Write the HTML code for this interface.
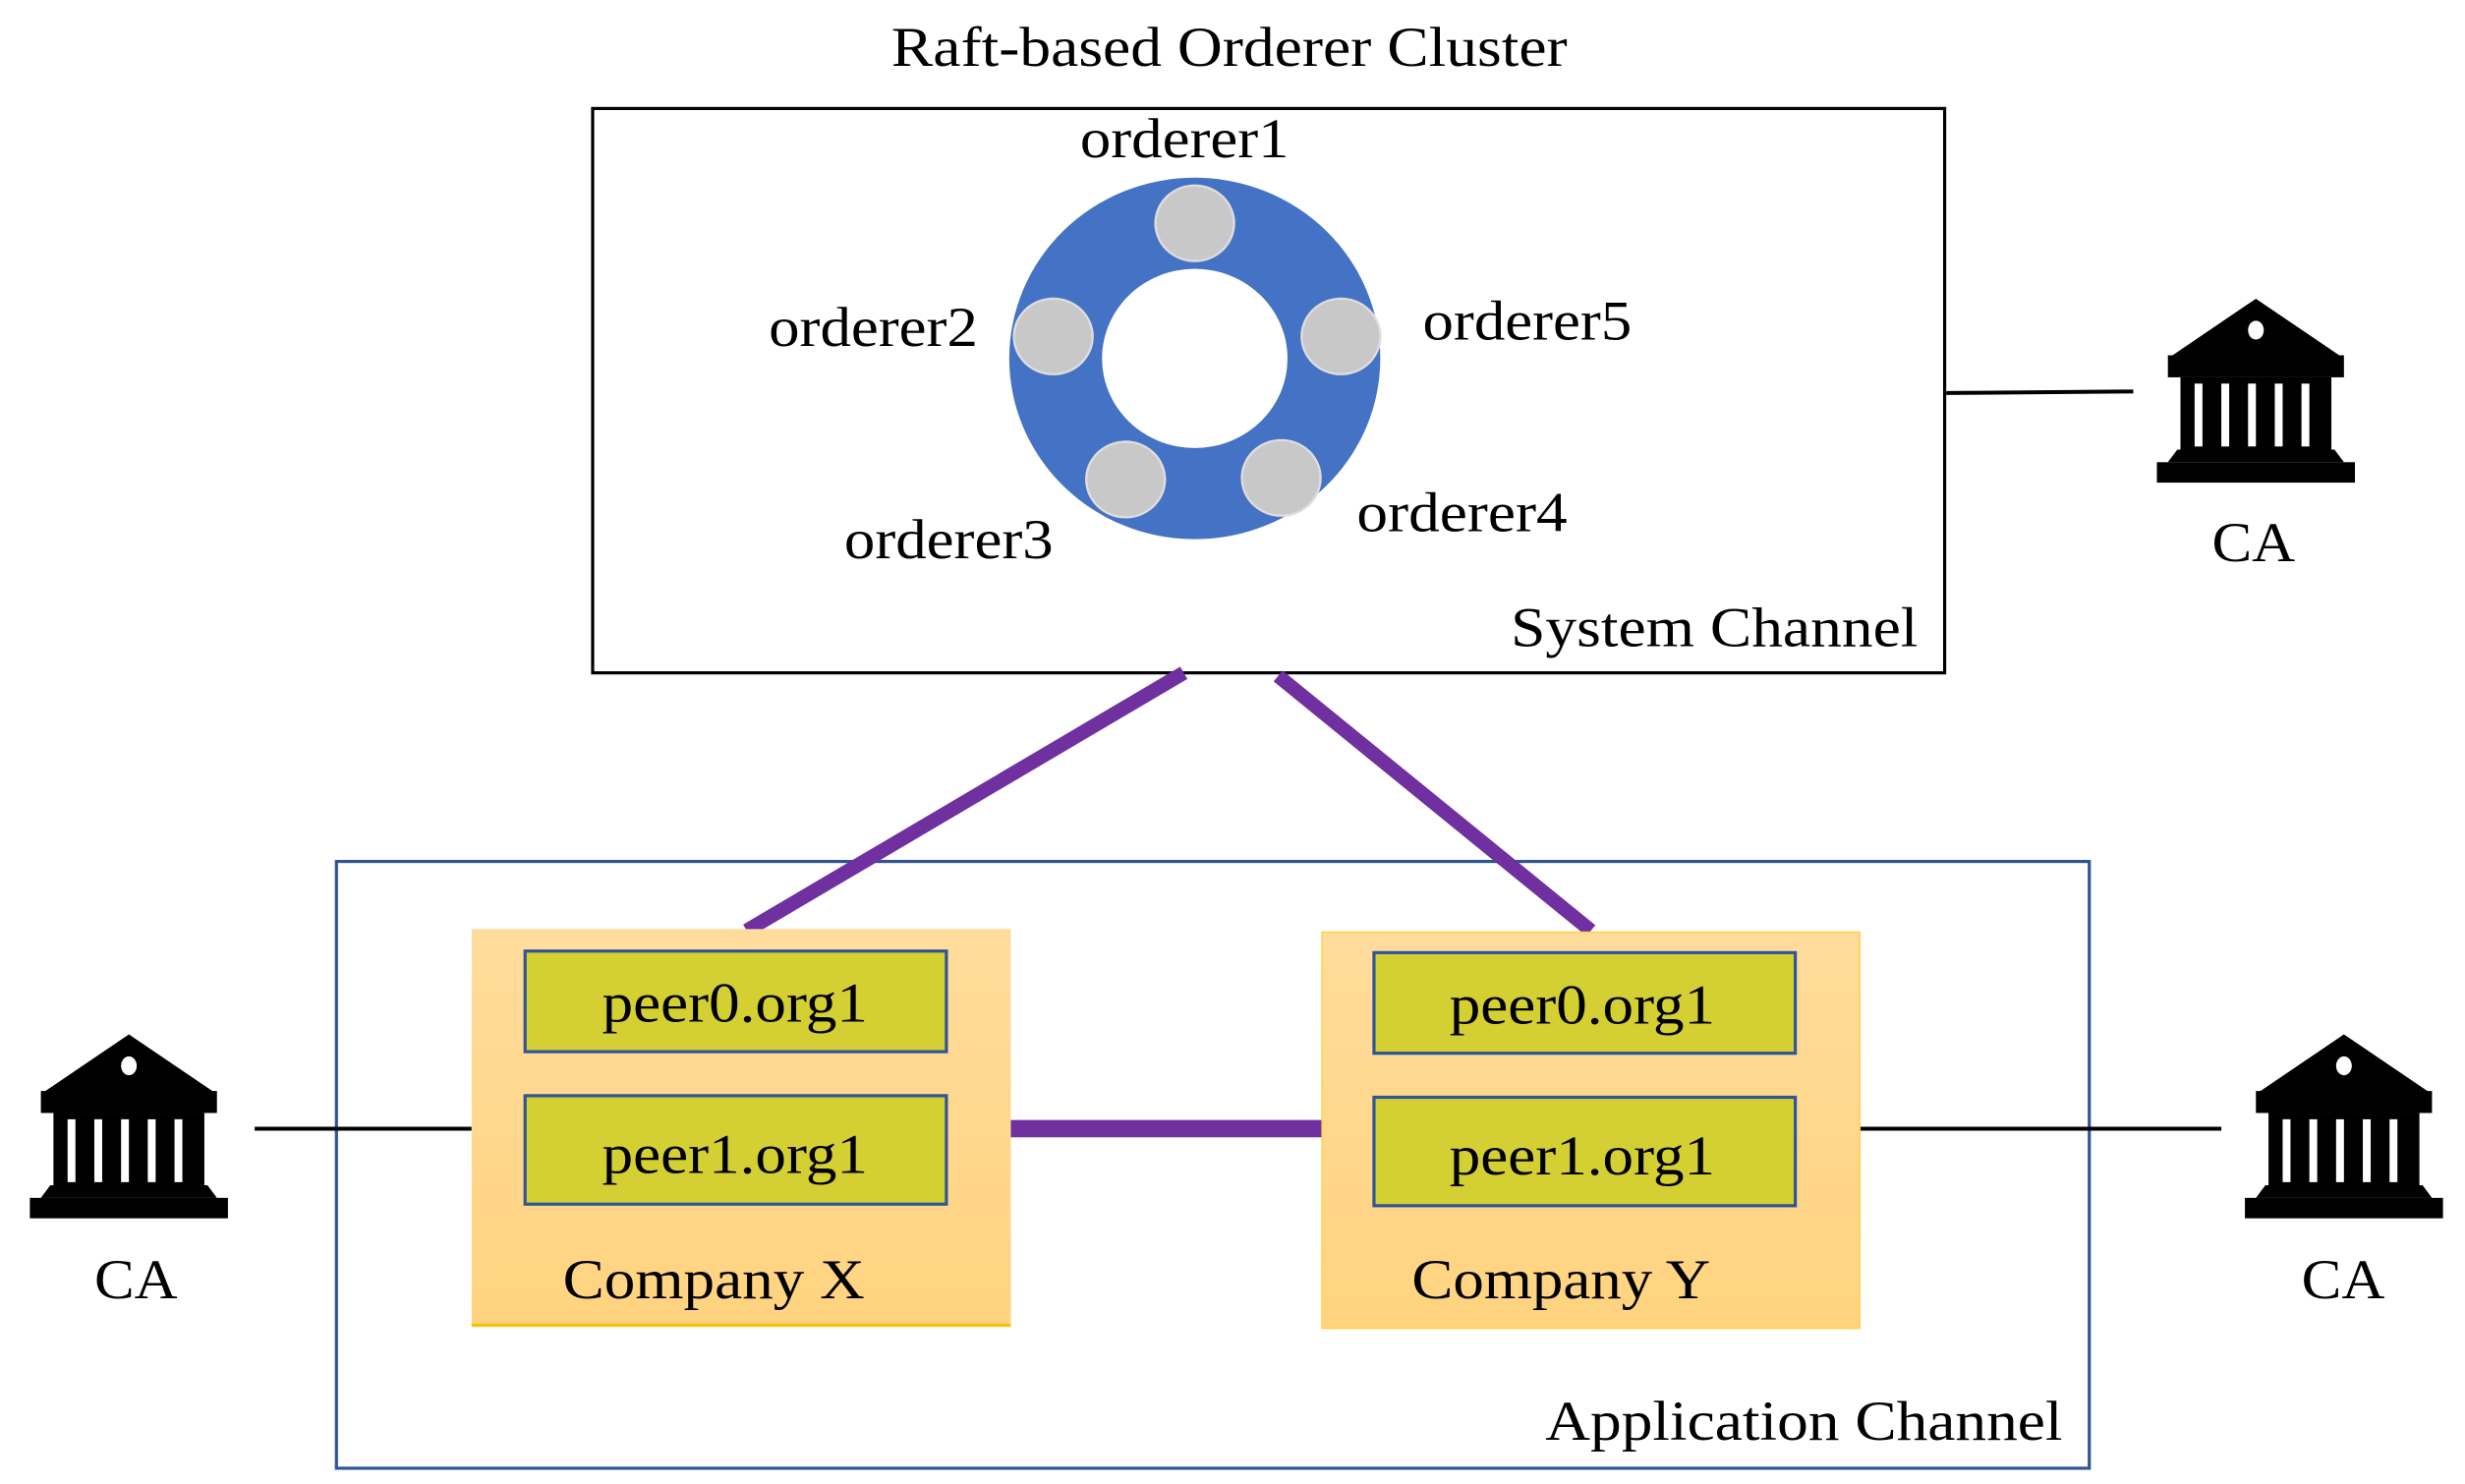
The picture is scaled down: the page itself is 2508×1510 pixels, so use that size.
<!DOCTYPE html>
<html><head><meta charset="utf-8"><style>html,body{margin:0;padding:0;background:#fff}svg{display:block}</style></head>
<body>
<svg xmlns="http://www.w3.org/2000/svg" width="2508" height="1510" viewBox="0 0 1568 944" font-family="'Liberation Serif', serif" font-size="36">
<defs>
<linearGradient id="og" x1="0" y1="0" x2="0" y2="1"><stop offset="0" stop-color="#FFDC9C"/><stop offset="1" stop-color="#FFD37F"/></linearGradient>
<g id="ca">
<polygon points="0,0 -56,38 56,38" fill="#000"/>
<ellipse cx="0" cy="20" rx="5" ry="6" fill="#fff"/>
<rect x="-56" y="36" width="112" height="14" fill="#000"/>
<rect x="-48" y="50" width="96" height="46" fill="#000"/>
<rect x="-39" y="54" width="5" height="40" fill="#fff"/>
<rect x="-22" y="54" width="5" height="40" fill="#fff"/>
<rect x="-5" y="54" width="5" height="40" fill="#fff"/>
<rect x="12" y="54" width="5" height="40" fill="#fff"/>
<rect x="29" y="54" width="5" height="40" fill="#fff"/>
<polygon points="-50,96 50,96 56,104 -56,104" fill="#000"/>
<rect x="-63" y="104" width="126" height="13" fill="#000"/>
</g>
</defs>
<text x="567" y="42" textLength="430" lengthAdjust="spacingAndGlyphs">Raft-based Orderer Cluster</text>
<rect x="377" y="69" width="860" height="359" fill="#fff" stroke="#000" stroke-width="2"/>
<path fill-rule="evenodd" fill="#4472C4" d="M642,228a118,115 0 1,0 236,0a118,115 0 1,0 -236,0z M701,228a59,57 0 1,0 118,0a59,57 0 1,0 -118,0z"/>
<g fill="#C8C8C8" stroke="#ddd" stroke-width="1.5">
<ellipse cx="760" cy="142" rx="25" ry="24"/>
<ellipse cx="670" cy="214" rx="25" ry="24"/>
<ellipse cx="853" cy="214" rx="25" ry="24"/>
<ellipse cx="716" cy="305" rx="25" ry="24"/>
<ellipse cx="815" cy="304" rx="25" ry="24"/>
</g>
<g lengthAdjust="spacingAndGlyphs">
<text x="687" y="100" textLength="133" lengthAdjust="spacingAndGlyphs">orderer1</text>
<text x="489" y="220" textLength="133" lengthAdjust="spacingAndGlyphs">orderer2</text>
<text x="905" y="216" textLength="133" lengthAdjust="spacingAndGlyphs">orderer5</text>
<text x="537" y="355" textLength="133" lengthAdjust="spacingAndGlyphs">orderer3</text>
<text x="863" y="338" textLength="134" lengthAdjust="spacingAndGlyphs">orderer4</text>
<text x="961" y="411" textLength="259" lengthAdjust="spacingAndGlyphs">System Channel</text>
</g>
<line x1="1238" y1="250" x2="1357" y2="249" stroke="#000" stroke-width="2.5"/>
<use href="#ca" x="1435" y="190"/>
<text x="1407" y="357" textLength="53" lengthAdjust="spacingAndGlyphs">CA</text>
<rect x="214" y="548" width="1115" height="386" fill="none" stroke="#2F5597" stroke-width="2"/>
<line x1="753" y1="428" x2="475" y2="592" stroke="#7030A0" stroke-width="9"/>
<line x1="813" y1="430" x2="1012" y2="592" stroke="#7030A0" stroke-width="9"/>
<line x1="162" y1="718" x2="300" y2="718" stroke="#000" stroke-width="2.5"/>
<line x1="1183" y1="718" x2="1413" y2="718" stroke="#000" stroke-width="2.5"/>
<line x1="643" y1="718" x2="841" y2="718" stroke="#7030A0" stroke-width="11"/>
<rect x="300" y="591" width="343" height="252" fill="url(#og)"/>
<line x1="300" y1="843" x2="643" y2="843" stroke="#FFC000" stroke-width="2"/>
<rect x="841" y="593" width="342" height="252" fill="url(#og)" stroke="#FFD24D" stroke-width="1"/>
<g fill="#D4CF33" stroke="#2F5597" stroke-width="2">
<rect x="334" y="605" width="268" height="64"/>
<rect x="334" y="697" width="268" height="69"/>
<rect x="874" y="606" width="268" height="64"/>
<rect x="874" y="698" width="268" height="69"/>
</g>
<text x="383" y="650" textLength="169" lengthAdjust="spacingAndGlyphs">peer0.org1</text>
<text x="383" y="746" textLength="169" lengthAdjust="spacingAndGlyphs">peer1.org1</text>
<text x="922" y="651" textLength="169" lengthAdjust="spacingAndGlyphs">peer0.org1</text>
<text x="922" y="747" textLength="169" lengthAdjust="spacingAndGlyphs">peer1.org1</text>
<text x="358" y="826" textLength="192" lengthAdjust="spacingAndGlyphs">Company X</text>
<text x="898" y="826" textLength="190" lengthAdjust="spacingAndGlyphs">Company Y</text>
<text x="60" y="826" textLength="53" lengthAdjust="spacingAndGlyphs">CA</text>
<text x="1464" y="826" textLength="53" lengthAdjust="spacingAndGlyphs">CA</text>
<use href="#ca" x="82" y="658"/>
<use href="#ca" x="1491" y="658"/>
<text x="983" y="916" textLength="329" lengthAdjust="spacingAndGlyphs">Application Channel</text>
</svg>
</body></html>
